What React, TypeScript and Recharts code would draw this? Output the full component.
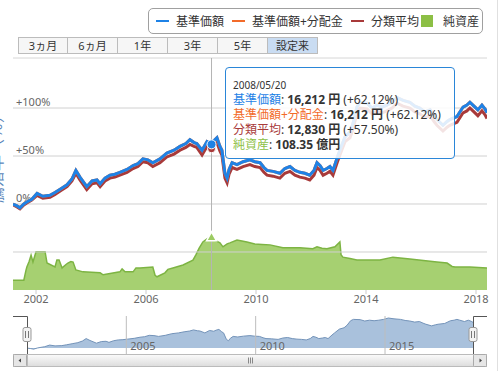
import React from "react";
import {
  ComposedChart,
  Line,
  Area,
  XAxis,
  YAxis,
  ReferenceLine,
  ReferenceDot,
} from "recharts";

// 基準価額 / 分類平均 (騰落率 %, 設定日比)
const dates = [
  "2001-03-01", "2001-04-23", "2001-06-02", "2001-07-23", "2001-09-01", "2001-11-06",
  "2002-01-15", "2002-04-01", "2002-07-05", "2002-09-10", "2002-11-28", "2003-02-17",
  "2003-04-23", "2003-06-14", "2003-08-07", "2003-11-06", "2004-01-15", "2004-03-21",
  "2004-05-01", "2004-07-05", "2004-09-09", "2004-11-14", "2005-01-19", "2005-04-23",
  "2005-07-13", "2005-09-16", "2005-11-21", "2006-01-26", "2006-04-01", "2006-07-05",
  "2006-10-05", "2007-01-08", "2007-03-28", "2007-06-14", "2007-08-07", "2007-10-01",
  "2007-11-06", "2008-01-15", "2008-03-21", "2008-05-20", "2008-06-21", "2008-07-31",
  "2008-09-09", "2008-10-05", "2008-11-14", "2008-12-13", "2009-01-08", "2009-02-17",
  "2009-04-23", "2009-07-13", "2009-10-12", "2009-12-16", "2010-02-24", "2010-04-16",
  "2010-05-27", "2010-08-15", "2010-11-14", "2011-01-19", "2011-03-28", "2011-06-02",
  "2011-08-07", "2011-10-12", "2011-12-16", "2012-02-10", "2012-03-21", "2012-05-01",
  "2012-06-10", "2012-07-31", "2012-09-09", "2012-10-19", "2012-12-13", "2013-01-19",
  "2013-03-28", "2013-06-02", "2013-07-13", "2013-09-02", "2013-10-12", "2014-01-15",
  "2014-03-21", "2014-05-27", "2014-07-31", "2014-10-05", "2014-12-13", "2015-02-17",
  "2015-05-08", "2015-08-07", "2015-10-12", "2015-12-16", "2016-02-24", "2016-05-01",
  "2016-06-21", "2016-07-31", "2016-10-19", "2016-12-13", "2017-01-19", "2017-04-23",
  "2017-07-13", "2017-09-02", "2017-10-12", "2017-11-21", "2018-01-26", "2018-03-21",
  "2018-05-01", "2018-05-27",
];

const fundPct = [
  0, -2, -4, 0, 2, 5,
  11, 8, 9, 12, 16, 20,
  26, 35, 28, 18, 24, 25,
  21, 27, 30, 31, 33, 36,
  40, 42, 47, 46, 43, 47,
  53, 56, 60, 63, 67, 64,
  63, 56, 65, 62.12, 66, 69,
  60, 56, 32, 27, 36, 43,
  41, 44, 46, 44, 43, 38,
  35, 34, 32, 37, 39, 35,
  33, 32, 30, 35, 43, 40,
  35, 37, 39, 35, 48, 56,
  70, 75, 84, 101, 106, 105,
  100, 103, 101, 103, 106, 111,
  108, 106, 102, 100, 96, 98,
  92, 88, 82, 86, 88, 91,
  101, 103, 106, 103, 98, 103,
  99, 95,
];

const categoryPct = [
  -1, -3, -5, -1, 1, 4,
  9, 6, 7, 10, 14, 18,
  24, 32, 25, 15, 21, 22,
  18, 24, 27, 28, 30, 33,
  37, 39, 44, 43, 39, 43,
  49, 52, 56, 59, 62, 60,
  59, 51, 60, 57.5, 61, 64,
  55, 51, 27, 22, 31, 38,
  36, 39, 41, 39, 38, 33,
  30, 29, 27, 32, 34, 30,
  28, 27, 25, 30, 38, 35,
  30, 32, 34, 30, 43, 51,
  65, 69, 78, 95, 100, 99,
  94, 97, 95, 97, 100, 105,
  102, 100, 96, 94, 90, 92,
  86, 82, 76, 80, 82, 85,
  95, 97, 100, 97, 92, 97,
  93, 89,
];

// 分配金なしのため 基準価額+分配金 は基準価額と同じ
const adjustedPct = fundPct;

// 純資産 (億円)
const assetDates = [
  "2001-03-01", "2001-07-23", "2001-08-20", "2001-09-01", "2001-10-01", "2001-10-27",
  "2001-11-21", "2001-12-16", "2002-01-01", "2002-05-01", "2002-05-27", "2002-09-10",
  "2002-10-05", "2002-11-03", "2002-12-13", "2003-02-03", "2003-02-28", "2003-04-09",
  "2003-05-08", "2003-06-14", "2003-09-16", "2004-05-01", "2004-06-10", "2005-01-19",
  "2005-02-17", "2005-03-28", "2005-07-13", "2005-08-20", "2005-10-12", "2006-04-01",
  "2006-05-01", "2006-05-27", "2006-09-09", "2006-10-19", "2006-12-24", "2007-05-08",
  "2007-09-16", "2007-10-27", "2007-12-06", "2008-01-26", "2008-03-21", "2008-05-20",
  "2008-07-20", "2008-09-09", "2008-10-19", "2008-12-13", "2009-01-19", "2009-04-23",
  "2009-06-28", "2009-09-02", "2009-12-16", "2010-03-21", "2010-07-05", "2010-12-24",
  "2011-08-07", "2012-01-26", "2012-03-21", "2012-05-27", "2012-07-31", "2012-11-14",
  "2013-01-19", "2013-02-03", "2013-02-28", "2013-06-02", "2013-09-02", "2014-07-05",
  "2014-12-24", "2015-08-07", "2016-07-31", "2016-12-13", "2017-02-17", "2017-03-28",
  "2017-10-12", "2018-05-27",
];

const netAssets = [
  20, 20, 40, 47, 58, 71,
  57, 70, 78, 78, 55, 47,
  61, 61, 45, 52, 55, 58,
  57, 41, 37, 35, 31, 37,
  43, 37, 37, 45, 45, 47,
  30, 27, 35, 42, 45, 51,
  61, 72, 85, 98, 104, 108.35,
  100, 96, 88, 94, 96, 102,
  100, 98, 94, 93, 92, 86,
  86, 84, 88, 85, 84, 88,
  98, 72, 67, 64, 61, 61,
  67, 63, 57, 55, 48, 47,
  47, 45,
];

const yearTicks = [2002, 2006, 2010, 2014, 2018];
const navigatorYears = [2005, 2010, 2015];
const pctLabels = [0, 50, 100];
const pctGrid = [-50, 0, 50, 100];
const rangeButtons = ["3ヵ月", "6ヵ月", "1年", "3年", "5年", "設定来"];

const ts = (d: string) => Date.parse(d + "T00:00:00Z");

const rows = [
  ...dates.map((d, i) => ({
    t: ts(d),
    fund: fundPct[i],
    adjusted: adjustedPct[i],
    category: categoryPct[i],
  })),
  ...assetDates.map((d, i) => ({ t: ts(d), assets: netAssets[i] })),
].sort((a, b) => a.t - b.t);

const navRows = dates.map((d, i) => ({ t: ts(d), fund: fundPct[i] }));

const start = ts("2001-03-01");
const end = ts("2018-05-27");
const pad = ((end - start) / 446) * 14;
const hoverT = ts("2008-05-20");

const BLUE = "#1e82e6";
const ORANGE = "#f26b2a";
const RED = "#a83a3a";
const GREEN = "#9ccb62";
const FONT = '"Noto Sans", "Noto Sans CJK JP", sans-serif';

const YearTick = ({ x, payload }: any) => (
  <text x={x} y={303} fontSize={11} fill="#666" textAnchor="middle" fontFamily={FONT}>
    {new Date(payload.value).getUTCFullYear()}
  </text>
);

const Triangle = ({ cx, cy }: any) => (
  <polygon
    points={`${cx},${cy - 5} ${cx - 5},${cy + 4} ${cx + 5},${cy + 4}`}
    fill={GREEN}
    stroke="#fff"
    strokeWidth={1.5}
  />
);

const pctLabel = (v: number) => (props: any) => {
  const vb = props.viewBox || {};
  return (
    <text x={16} y={vb.y - 2} fontSize={11} fill="#666" fontFamily={FONT}>
      {v === 0 ? "0%" : `+${v}%`}
    </text>
  );
};

const legendItems = [
  { name: "基準価額", color: BLUE, kind: "line", x: 7 },
  { name: "基準価額+分配金", color: ORANGE, kind: "line", x: 83 },
  { name: "分類平均", color: RED, kind: "line", x: 202 },
  { name: "純資産", color: "#8cbf45", kind: "box", x: 272 },
];

export default function App() {
  return (
    <div
      style={{
        position: "absolute",
        left: 0,
        top: 0,
        width: 500,
        height: 371,
        background: "#fff",
        fontFamily: FONT,
        overflow: "hidden",
      }}
    >
      {/* legend */}
      <div
        style={{
          position: "absolute",
          left: 148,
          top: 8,
          width: 333,
          height: 24,
          border: "1px solid #a0a0a0",
          borderRadius: 5,
          fontSize: 12,
          color: "#333",
        }}
      >
        {legendItems.map((it) => (
          <div
            key={it.name}
            style={{
              position: "absolute",
              left: it.x,
              top: 0,
              height: 24,
              display: "flex",
              alignItems: "center",
              whiteSpace: "nowrap",
            }}
          >
            {it.kind === "line" ? (
              <div style={{ width: 13, height: 2, background: it.color, marginRight: 7 }} />
            ) : (
              <div style={{ width: 12, height: 12, background: it.color, marginRight: 10 }} />
            )}
            <span>{it.name}</span>
          </div>
        ))}
      </div>

      {/* range buttons */}
      <div style={{ position: "absolute", left: 18, top: 37, display: "flex" }}>
        {rangeButtons.map((b, i) => (
          <div
            key={b}
            style={{
              width: 50,
              height: 17,
              boxSizing: "border-box",
              border: "1px solid #bcbcbc",
              borderLeft: i === 0 ? "1px solid #bcbcbc" : "none",
              background: i === 5 ? "#c9dcf2" : "#f6f6f6",
              fontSize: 11,
              lineHeight: "15px",
              textAlign: "center",
              color: "#333",
              whiteSpace: "nowrap",
            }}
          >
            {b}
          </div>
        ))}
      </div>

      {/* main chart */}
      <div style={{ position: "absolute", left: 0, top: 0 }}>
        <ComposedChart
          width={489}
          height={310}
          data={rows}
          margin={{ top: 58, right: 2, bottom: 0, left: 13 }}
        >
          <XAxis
            dataKey="t"
            type="number"
            scale="time"
            domain={[start, end]}
            allowDataOverflow
            ticks={yearTicks.map((y) => Date.UTC(y, 0, 1))}
            interval={0}
            tick={<YearTick />}
            tickSize={4}
            tickLine={{ stroke: "#ccc" }}
            axisLine={false}
            height={20}
          />
          <YAxis yAxisId="pct" hide domain={[-89.6, 152.1]} allowDataOverflow />
          <YAxis yAxisId="nav" hide domain={[0, 473]} allowDataOverflow />
          <Area
            yAxisId="nav"
            dataKey="assets"
            type="linear"
            fill={GREEN}
            fillOpacity={0.9}
            stroke="#7db443"
            strokeWidth={1.5}
            connectNulls
            dot={false}
            activeDot={false}
            isAnimationActive={false}
          />
          <ReferenceLine yAxisId="pct" y={152.1} stroke="#d6d6d6" />
          {pctGrid.map((v) => (
            <ReferenceLine
              key={v}
              yAxisId="pct"
              y={v}
              stroke="#d0d0d0"
              label={pctLabels.includes(v) ? pctLabel(v) : undefined}
            />
          ))}
          <ReferenceLine yAxisId="pct" x={hoverT} stroke="#b4b4b4" />
          <Line
            yAxisId="pct"
            dataKey="category"
            stroke={RED}
            strokeWidth={3}
            dot={false}
            connectNulls
            isAnimationActive={false}
          />
          <Line
            yAxisId="pct"
            dataKey="adjusted"
            stroke={ORANGE}
            strokeWidth={3}
            dot={false}
            connectNulls
            isAnimationActive={false}
          />
          <Line
            yAxisId="pct"
            dataKey="fund"
            stroke={BLUE}
            strokeWidth={3}
            dot={false}
            connectNulls
            isAnimationActive={false}
          />
          <ReferenceDot yAxisId="pct" x={hoverT} y={57.5} r={4} fill={RED} stroke="#fff" />
          <ReferenceDot yAxisId="pct" x={hoverT} y={62.12} r={4.5} fill={BLUE} stroke="#fff" />
          <ReferenceDot yAxisId="nav" x={hoverT} y={108.35} shape={<Triangle />} />
        </ComposedChart>
      </div>

      {/* left clipped axis title */}
      <svg width={12} height={240} style={{ position: "absolute", left: 0, top: 40 }}>
        <text
          x={-4}
          y={115}
          transform="rotate(-90 -4 115)"
          textAnchor="middle"
          dominantBaseline="central"
          fontSize={16}
          fill="#5a86ba"
          fontFamily={FONT}
        >
          騰落率（％）
        </text>
      </svg>

      {/* tooltip */}
      <div
        style={{
          position: "absolute",
          left: 225,
          top: 67,
          width: 230,
          height: 92,
          boxSizing: "border-box",
          border: "1px solid #2a86d8",
          borderRadius: 4,
          background: "rgba(255,255,255,0.86)",
          padding: "10px 0 0 7px",
          color: "#333",
          whiteSpace: "nowrap",
        }}
      >
        <div style={{ fontSize: 10, lineHeight: "14px" }}>2008/05/20</div>
        <div style={{ fontSize: 12, lineHeight: "15px" }}>
          <span style={{ color: BLUE }}>基準価額</span>: <b>16,212 円</b> (+62.12%)
        </div>
        <div style={{ fontSize: 12, lineHeight: "15px" }}>
          <span style={{ color: ORANGE }}>基準価額+分配金</span>: <b>16,212 円</b> (+62.12%)
        </div>
        <div style={{ fontSize: 12, lineHeight: "15px" }}>
          <span style={{ color: RED }}>分類平均</span>: <b>12,830 円</b> (+57.50%)
        </div>
        <div style={{ fontSize: 12, lineHeight: "15px" }}>
          <span style={{ color: "#8cbf45" }}>純資産</span>: <b>108.35 億円</b>
        </div>
      </div>

      {/* navigator */}
      <div style={{ position: "absolute", left: 0, top: 316 }}>
        <ComposedChart
          width={489}
          height={38}
          data={navRows}
          margin={{ top: 0, right: 2, bottom: 0, left: 13 }}
        >
          <XAxis dataKey="t" type="number" scale="time" hide domain={[start - pad, end + pad]} />
          <YAxis hide domain={[-22, 118.5]} allowDataOverflow />
          <Area
            dataKey="fund"
            type="linear"
            fill="#a9c1dc"
            fillOpacity={1}
            stroke="#7393b9"
            strokeWidth={1}
            dot={false}
            activeDot={false}
            isAnimationActive={false}
          />
          {navigatorYears.map((y) => (
            <ReferenceLine
              key={y}
              x={Date.UTC(y, 0, 1)}
              stroke="#bdbdbd"
              label={{
                value: String(y),
                position: "insideBottomLeft",
                offset: 4,
                fill: "#666",
                fontSize: 11,
              }}
            />
          ))}
        </ComposedChart>
      </div>

      {/* navigator chrome and scrollbar */}
      <svg width={500} height={371} style={{ position: "absolute", left: 0, top: 0 }}>
        <path d="M13,316.5 H27.5 V354" fill="none" stroke="#555" strokeWidth={1} />
        <path d="M487,316.5 H473.5 V354" fill="none" stroke="#555" strokeWidth={1} />
        {[27, 473].map((x) => (
          <g key={x}>
            <rect x={x - 4} y={327.5} width={8} height={14} rx={2} fill="#f2f2f2" stroke="#999" />
            <line x1={x - 1.5} x2={x - 1.5} y1={331} y2={338} stroke="#777" />
            <line x1={x + 1.5} x2={x + 1.5} y1={331} y2={338} stroke="#777" />
          </g>
        ))}
        <defs>
          <linearGradient id="thumb" x1="0" x2="0" y1="0" y2="1">
            <stop offset="0%" stopColor="#fbfbfb" />
            <stop offset="100%" stopColor="#dcdcdc" />
          </linearGradient>
        </defs>
        <rect x={13.5} y={354.5} width={473} height={12} fill="#eeeeee" stroke="#bbb" />
        <rect x={27.5} y={354.5} width={446} height={12} fill="url(#thumb)" stroke="#bbb" />
        {[248, 250, 252].map((x) => (
          <line key={x} x1={x + 0.5} x2={x + 0.5} y1={357.5} y2={363.5} stroke="#888" />
        ))}
        <rect x={13.5} y={354.5} width={13} height={12} rx={1} fill="#e6e6e6" stroke="#aaa" />
        <rect x={473.5} y={354.5} width={13} height={12} rx={1} fill="#e6e6e6" stroke="#aaa" />
        <polygon points="18.5,360.5 21,358.5 21,362.5" fill="#444" />
        <polygon points="482,360.5 479.5,358.5 479.5,362.5" fill="#444" />
        <line x1={497.5} x2={497.5} y1={0} y2={371} stroke="#e0e0e0" />
      </svg>
    </div>
  );
}
